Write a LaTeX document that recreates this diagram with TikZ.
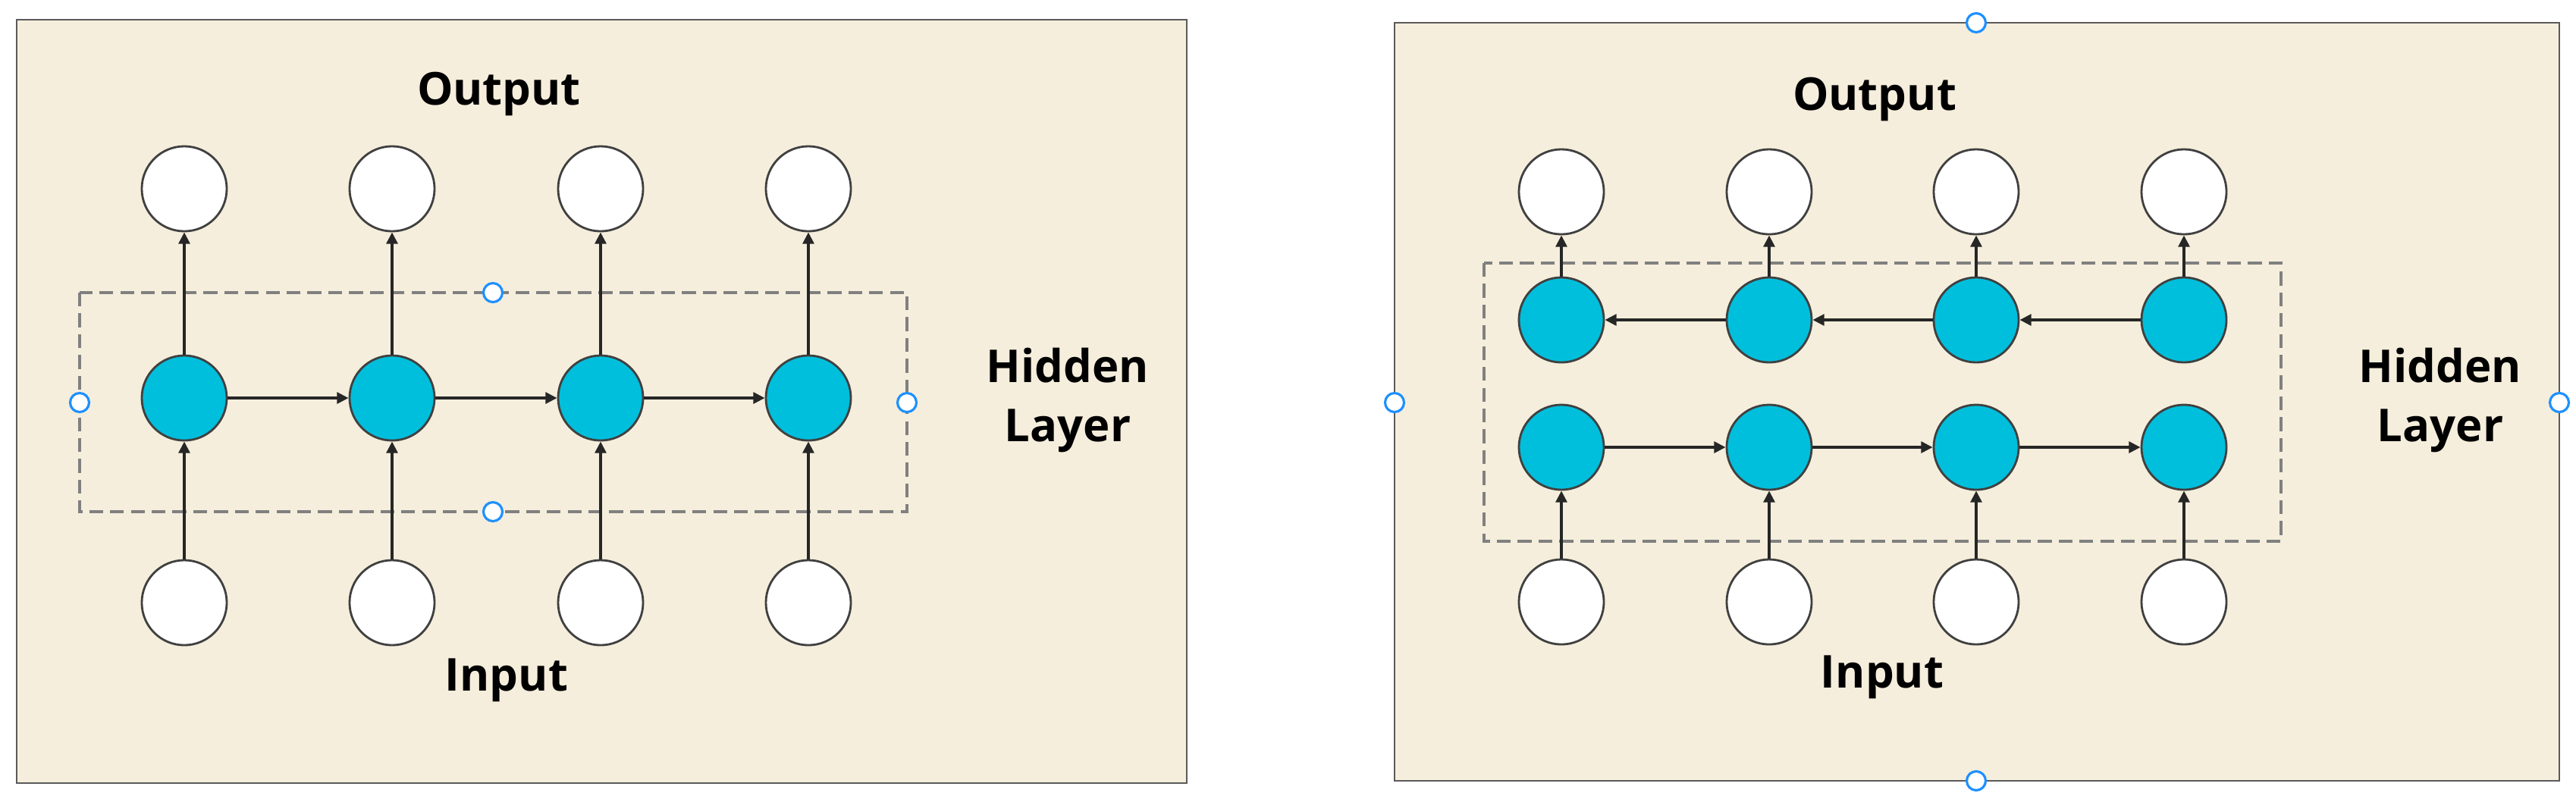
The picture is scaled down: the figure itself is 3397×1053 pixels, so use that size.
\documentclass[tikz,border=0pt]{standalone}
\usepackage{fontspec}
\setmainfont{Open Sans}
\usetikzlibrary{arrows.meta}
\definecolor{panelbg}{HTML}{F5EEDC}
\definecolor{panelborder}{HTML}{5A5A5A}
\definecolor{cellcyan}{HTML}{00BFDC}
\definecolor{celledge}{HTML}{404040}
\definecolor{dashgray}{HTML}{808080}
\definecolor{handleblue}{HTML}{1E90FF}
\tikzset{
  panel/.style={fill=panelbg, draw=panelborder, line width=0.8pt},
  iocell/.style={circle, minimum size=1.12cm, inner sep=0pt, fill=white, draw=celledge, line width=0.8pt},
  hidcell/.style={circle, minimum size=1.12cm, inner sep=0pt, fill=cellcyan, draw=celledge, line width=0.8pt},
  conn/.style={-{Triangle[length=4.3pt,width=4.2pt]}, line width=0.95pt, black!85},
  hidbox/.style={draw=dashgray, line width=1.2pt, dash pattern=on 5.2pt off 2.6pt},
  handle/.style={circle, minimum size=0.25cm, inner sep=0pt, fill=white, draw=handleblue, line width=0.9pt},
  lbl/.style={font=\fontsize{17}{22}\selectfont\bfseries, align=center, inner sep=0pt},
}
\begin{document}
\begin{tikzpicture}[x=0.01cm,y=-0.01cm]
\useasboundingbox (0,0) rectangle (3397,1053);
\fill[white] (0,0) rectangle (3397,1053);

% ---------- Left panel ----------
\draw[panel] (22,26) rectangle (1565,1033);
\foreach \i/\x in {1/243,2/517,3/792,4/1066}{
  \node[iocell]  (lo\i) at (\x,249) {};
  \node[hidcell] (lh\i) at (\x,525) {};
  \node[iocell]  (li\i) at (\x,795) {};
}
\node[lbl] (loutput) at (658,124) {Output};
\node[lbl] (linput)  at (668,897) {Input};
\node[lbl] (lhidden) at (1408,528) {Hidden\\Layer};
\coordinate (lboxa) at (105,386);
\coordinate (lboxb) at (1196,675);
\draw[hidbox] (lboxa) rectangle (lboxb);
\foreach \i in {1,2,3,4}{
  \draw[conn] (li\i) -- (lh\i);
  \draw[conn] (lh\i) -- (lo\i);
}
\draw[conn] (lh1) -- (lh2);
\draw[conn] (lh2) -- (lh3);
\draw[conn] (lh3) -- (lh4);
\node[handle] (lhan1) at (650,386) {};
\node[handle] (lhan2) at (650,675) {};
\node[handle] (lhan3) at (105,531) {};
\node[handle] (lhan4) at (1196,531) {};

% ---------- Right panel ----------
\draw[panel] (1839,30) rectangle (3375,1030);
\foreach \i/\x in {1/2059,2/2333,3/2606,4/2880}{
  \node[iocell]  (ro\i) at (\x,253) {};
  \node[hidcell] (rt\i) at (\x,422) {};
  \node[hidcell] (rb\i) at (\x,590) {};
  \node[iocell]  (ri\i) at (\x,794) {};
}
\node[lbl] (routput) at (2472,131) {Output};
\node[lbl] (rinput)  at (2482,893) {Input};
\node[lbl] (rhidden) at (3218,528) {Hidden\\Layer};
\coordinate (rboxa) at (1957,347);
\coordinate (rboxb) at (3008,714);
\draw[hidbox] (rboxa) rectangle (rboxb);
\foreach \i in {1,2,3,4}{
  \draw[conn] (ri\i) -- (rb\i);
  \draw[conn] (rt\i) -- (ro\i);
}
\draw[conn] (rb1) -- (rb2);
\draw[conn] (rb2) -- (rb3);
\draw[conn] (rb3) -- (rb4);
\draw[conn] (rt4) -- (rt3);
\draw[conn] (rt3) -- (rt2);
\draw[conn] (rt2) -- (rt1);
\node[handle] (rhan1) at (2606,30) {};
\node[handle] (rhan2) at (2606,1030) {};
\node[handle] (rhan3) at (1839,531) {};
\node[handle] (rhan4) at (3375,531) {};
\end{tikzpicture}
\end{document}
